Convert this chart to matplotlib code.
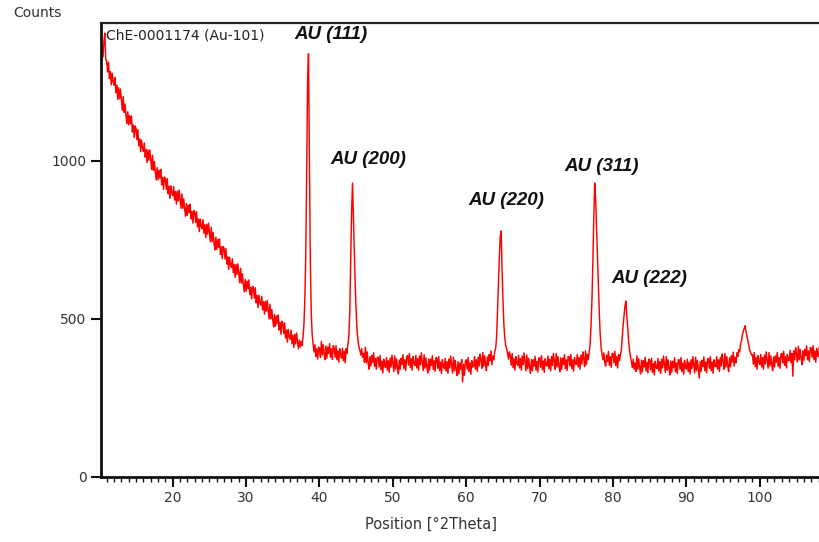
import numpy as np
import matplotlib
matplotlib.use("Agg")
import matplotlib.pyplot as plt
from matplotlib.ticker import MultipleLocator

# ---- data ----
scan_start = 10.0      # first 2Theta of the scan
scan_step = 0.125      # step of the scan, degrees

counts = [
    1290, 1340, 1310, 1360, 1330, 1380, 1405, 1320,   # 10
    1318, 1282, 1313, 1261, 1283, 1241, 1278, 1251,   # 11
    1240, 1264, 1217, 1240, 1195, 1232, 1197, 1228,   # 12
    1195, 1161, 1204, 1154, 1180, 1145, 1118, 1156,   # 13
    1115, 1144, 1117, 1142, 1092, 1114, 1074, 1111,   # 14
    1103, 1067, 1099, 1048, 1070, 1029, 1066, 1041,   # 15
    1030, 1057, 1012, 1037, 995, 1035, 1002, 1035,    # 16
    1005, 973, 1018, 970, 998, 965, 940, 979,         # 17
    940, 971, 946, 973, 924, 948, 910, 949,           # 18
    943, 910, 944, 896, 920, 881, 921, 898,           # 19
    890, 919, 876, 903, 863, 904, 873, 908,           # 20
    880, 850, 896, 850, 880, 848, 825, 865,           # 21
    828, 859, 836, 863, 816, 840, 803, 843,           # 22
    838, 805, 839, 791, 816, 776, 816, 793,           # 23
    785, 814, 771, 798, 757, 799, 768, 803,           # 24
    775, 744, 790, 744, 773, 741, 718, 758,           # 25
    720, 751, 726, 753, 704, 728, 690, 729,           # 26
    723, 689, 722, 673, 696, 656, 695, 671,           # 27
    662, 690, 646, 672, 631, 672, 640, 674,           # 28
    645, 614, 660, 613, 642, 609, 585, 625,           # 29
    587, 619, 595, 623, 576, 600, 563, 603,           # 30
    598, 565, 598, 550, 574, 535, 575, 551,           # 31
    543, 571, 528, 554, 514, 555, 524, 558,           # 32
    530, 499, 546, 499, 529, 497, 474, 514,           # 33
    477, 508, 485, 512, 464, 489, 451, 492,           # 34
    486, 453, 487, 439, 464, 426, 466, 443,           # 35
    435, 464, 421, 448, 409, 451, 420, 455,           # 36
    428, 405, 432, 410, 428, 415, 440, 480,           # 37
    560, 700, 950, 1250, 1340, 1000, 680, 520,        # 38
    450, 420, 395, 418, 380, 405, 372, 410,           # 39
    405, 378, 428, 385, 418, 390, 370, 414,           # 40
    375, 410, 390, 421, 377, 405, 371, 415,           # 41
    408, 378, 415, 370, 398, 362, 405, 385,           # 42
    375, 407, 367, 397, 360, 405, 390, 420,           # 43
    445, 520, 690, 840, 930, 820, 700, 600,           # 44
    520, 460, 430, 410, 400, 385, 405, 378,           # 45
    390, 362, 410, 360, 395, 360, 340, 380,           # 46
    350, 384, 362, 392, 348, 374, 340, 378,           # 47
    378, 347, 384, 338, 366, 328, 372, 352,           # 48
    345, 377, 337, 367, 330, 375, 347, 385,           # 49
    360, 333, 383, 340, 373, 345, 325, 369,           # 50
    340, 375, 355, 386, 342, 370, 336, 380,           # 51
    383, 353, 390, 345, 373, 337, 380, 360,           # 52
    352, 384, 344, 374, 337, 382, 354, 392,           # 53
    363, 336, 386, 343, 376, 348, 328, 372,           # 54
    337, 372, 352, 383, 339, 367, 333, 377,           # 55
    373, 343, 380, 335, 363, 327, 370, 350,           # 56
    342, 374, 334, 364, 327, 372, 344, 382,           # 57
    355, 328, 378, 335, 368, 340, 320, 364,           # 58
    325, 360, 340, 371, 300, 355, 321, 365,           # 59
    370, 340, 377, 332, 360, 324, 367, 347,           # 60
    348, 380, 340, 370, 333, 378, 350, 388,           # 61
    370, 343, 393, 350, 383, 355, 335, 379,           # 62
    352, 387, 367, 398, 354, 382, 370, 395,           # 63
    405, 440, 520, 610, 690, 760, 778, 660,           # 64
    560, 480, 440, 415, 405, 390, 372, 395,           # 65
    383, 353, 390, 345, 373, 337, 380, 360,           # 66
    352, 384, 344, 374, 337, 382, 354, 392,           # 67
    362, 335, 385, 342, 375, 347, 327, 371,           # 68
    335, 370, 350, 381, 337, 365, 331, 375,           # 69
    376, 346, 383, 338, 366, 330, 373, 353,           # 70
    350, 382, 342, 372, 335, 380, 352, 390,           # 71
    367, 340, 390, 347, 380, 352, 332, 376,           # 72
    340, 375, 355, 386, 342, 370, 336, 380,           # 73
    380, 350, 387, 342, 370, 334, 377, 357,           # 74
    355, 387, 347, 377, 340, 385, 357, 395,           # 75
    375, 348, 398, 355, 388, 370, 395, 420,           # 76
    480, 560, 680, 820, 930, 880, 790, 700,           # 77
    600, 520, 450, 410, 385, 370, 392, 360,           # 78
    350, 385, 365, 396, 352, 380, 346, 390,           # 79
    390, 360, 397, 352, 380, 344, 387, 367,           # 80
    385, 400, 440, 480, 510, 540, 556, 510,           # 81
    470, 430, 400, 380, 365, 345, 372, 340,           # 82
    360, 333, 383, 340, 373, 345, 325, 369,           # 83
    332, 367, 347, 378, 334, 362, 328, 372,           # 84
    368, 338, 375, 330, 358, 322, 365, 345,           # 85
    342, 374, 334, 364, 327, 372, 344, 382,           # 86
    357, 330, 380, 337, 370, 342, 322, 366,           # 87
    330, 365, 345, 376, 332, 360, 326, 370,           # 88
    370, 340, 377, 332, 360, 324, 367, 347,           # 89
    340, 372, 332, 362, 325, 370, 342, 380,           # 90
    355, 328, 378, 335, 368, 340, 312, 364,           # 91
    333, 368, 348, 379, 335, 363, 329, 373,           # 92
    373, 343, 380, 335, 363, 327, 370, 350,           # 93
    348, 380, 340, 370, 333, 378, 350, 388,           # 94
    367, 340, 390, 347, 380, 352, 332, 376,           # 95
    348, 383, 363, 394, 350, 378, 360, 392,           # 96
    380, 402, 395, 420, 430, 450, 460, 470,           # 97
    478, 460, 445, 430, 415, 400, 392, 385,           # 98
    386, 356, 393, 348, 376, 340, 383, 363,           # 99
    355, 387, 347, 377, 340, 385, 357, 395,           # 100
    370, 343, 393, 350, 383, 355, 335, 379,           # 101
    347, 382, 362, 393, 349, 377, 343, 387,           # 102
    390, 360, 397, 352, 380, 344, 387, 367,           # 103
    368, 400, 360, 390, 318, 398, 370, 408,           # 104
    390, 363, 413, 370, 403, 375, 355, 399,           # 105
    368, 403, 383, 414, 370, 398, 364, 408,           # 106
    408, 378, 415, 370, 398, 362, 405, 385,           # 107
    380, 412, 372, 402, 365, 410, 382, 420,           # 108
]

peak_labels = ["AU (111)", "AU (200)", "AU (220)", "AU (311)", "AU (222)"]
sample_name = "ChE-0001174 (Au-101)"
x_label = "Position [°2Theta]"
y_label = "Counts"
y_ticks = [0, 500, 1000]
x_ticks = [20, 30, 40, 50, 60, 70, 80, 90, 100]

# ---- figure ----
two_theta = scan_start + scan_step * np.arange(len(counts))

fig = plt.figure(figsize=(8.2, 5.42), dpi=100)
ax = fig.add_axes([0.1232, 0.1208, 0.8768, 0.8373])
ax.plot(two_theta, counts, color="#ff0000", lw=1.05)

ax.set_xlim(10.23, 108.2)
ax.set_ylim(0, 1438)

for s in ["left", "bottom"]:
    ax.spines[s].set_linewidth(2.0)
    ax.spines[s].set_color("#111111")
ax.spines["top"].set_linewidth(1.6)
ax.spines["top"].set_color("#222222")
ax.spines["right"].set_visible(False)

ax.set_xticks(x_ticks)
ax.set_yticks(y_ticks)
ax.xaxis.set_minor_locator(MultipleLocator(1))
ax.tick_params(axis="x", which="major", direction="out", length=7.5, width=1.5,
               pad=3, labelsize=10, labelcolor="#333333", color="#111111")
ax.tick_params(axis="x", which="minor", direction="out", length=3.8, width=1.0,
               color="#111111")
ax.tick_params(axis="y", which="major", direction="out", length=7, width=1.5,
               pad=3.5, labelsize=10, labelcolor="#333333", color="#111111")

fig.text(431 / 820, 1 - 524 / 542, x_label, ha="center", va="center",
         fontsize=10.5, color="#333333")
fig.text(37 / 820, 1 - 12.7 / 542, y_label, ha="center", va="center",
         fontsize=10, color="#333333")

ax.text(10.9, 1420, sample_name, ha="left", va="top", fontsize=10,
        color="#222222")

label_pos = [(41.53, 1401), (46.68, 1005), (65.41, 875), (78.45, 981), (84.89, 628)]
for lab, (lx, ly) in zip(peak_labels, label_pos):
    ax.text(lx, ly, lab, ha="center", va="center", fontsize=13.5,
            fontweight="bold", fontstyle="italic", family="Liberation Sans",
            color="#111111")

fig.savefig("out.png", dpi=100)
